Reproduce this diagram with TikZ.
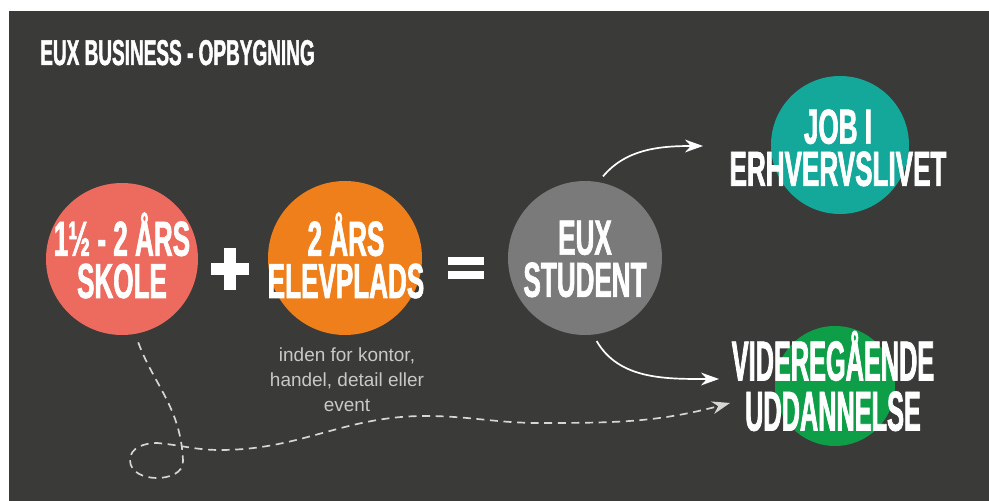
\documentclass[tikz,border=0pt]{standalone}
\usepackage{fontspec}
\usetikzlibrary{arrows.meta}

\newfontfamily\headfont[FakeStretch=0.53,FakeBold=1.3]{Liberation Sans}
\newfontfamily\tallfont[FakeStretch=0.45,FakeBold=1.3]{Liberation Sans}
\newfontfamily\notefont{Liberation Sans}

\definecolor{board}{HTML}{3A3A38}
\definecolor{salmon}{HTML}{EC6B5E}
\definecolor{tangerine}{HTML}{EE7F1B}
\definecolor{stone}{HTML}{7A7A7A}
\definecolor{jobteal}{HTML}{14A89B}
\definecolor{leaf}{HTML}{0E9E48}
\definecolor{note}{HTML}{C8C8C8}
\definecolor{trailgray}{HTML}{D6D6D6}

\tikzset{
	disc/.style={circle, inner sep=0pt, minimum size=#1},
	bigtxt/.style={text=white, align=center, inner sep=0pt,
		font=\headfont\bfseries\fontsize{35}{30}\selectfont},
	flow/.style={white, line width=1.2pt, -{Stealth[length=0.45cm, width=0.32cm]}},
	trail/.style={trailgray, line width=1.2pt, dash pattern=on 0.2cm off 0.14cm,
		-{Stealth[length=0.45cm, width=0.32cm]}}
}

\begin{document}
\begin{tikzpicture}
	\useasboundingbox (0,0) rectangle (24.725,12.525);
	\fill[white] (0,0) rectangle (24.725,12.525);
	\fill[board] (0.225,0) rectangle (24.725,12.25);

	\node[anchor=base west, text=white, inner sep=0pt,
		font=\headfont\bfseries\fontsize{25.5}{26}\selectfont] (title) at (1.0,10.9) {EUX BUSINESS - OPBYGNING};

	\node[disc=3.8cm, fill=salmon] (skole) at (3.05,6.05) {};
	\node[disc=3.85cm, fill=tangerine] (elev) at (8.625,6.075) {};
	\node[disc=3.85cm, fill=stone] (student) at (14.625,6.075) {};
	\node[disc=3.45cm, fill=jobteal] (job) at (21.0,8.9) {};
	\node[disc=3.0cm, fill=leaf] (videre) at (20.875,2.875) {};

	\node[bigtxt] (skoletxt) at (3.05,6.14) {1½ - 2 ÅRS\\SKOLE};
	\node[bigtxt] (elevtxt) at (8.65,6.14) {2 ÅRS\\ELEVPLADS};
	\node[bigtxt] (studenttxt) at (14.625,6.05) {EUX\\STUDENT};
	\node[bigtxt] (jobtxt) at (20.95,8.83) {JOB I\\ERHVERVSLIVET};
	\node[bigtxt, font=\tallfont\bfseries\fontsize{40}{35.7}\selectfont] (videretxt) at (20.825,3.0) {VIDEREGÅENDE\\UDDANNELSE};

	\node[anchor=north, text=note, align=center, inner sep=0pt,
		font=\notefont\fontsize{13.5}{18}\selectfont] (elevnote) at (8.675,3.85) {inden for kontor,\\handel, detail eller\\event};

	\draw[white, line width=0.3cm] (5.275,5.8) -- (6.225,5.8);
	\draw[white, line width=0.3cm] (5.75,6.325) -- (5.75,5.275);

	\draw[white, line width=0.2cm] (11.2,5.99) -- (12.1,5.99);
	\draw[white, line width=0.2cm] (11.2,5.64) -- (12.1,5.64);

	\coordinate (jobtip) at (17.575,8.875);
	\coordinate (videretip) at (17.975,3.05);
	\coordinate (trailtip) at (18.25,2.45);

	\draw[flow, shorten <=0.18cm] (student.80) to[out=50, in=180] (jobtip);
	\draw[flow, shorten <=0.18cm] (student.-84) to[out=-60, in=180] (videretip);

	\draw[trail, shorten <=0.22cm] (skole.-80) to[out=-70, in=92] (4.575,1.0)
		to[out=-88, in=0] (3.925,0.575) to[out=180, in=-90] (3.25,1.025)
		to[out=90, in=180] (3.925,1.45) to[out=-5, in=180] (5.5,1.275)
		to[out=0, in=180] (10.625,2.125) to[out=0, in=180] (13.5,1.95)
		to[out=0, in=195] (trailtip);
\end{tikzpicture}
\end{document}
